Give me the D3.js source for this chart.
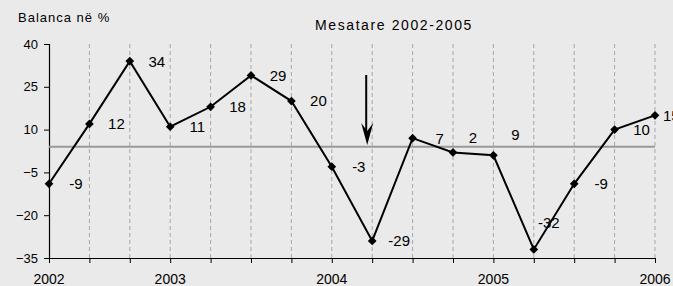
<!DOCTYPE html>
<html>
<head>
  <script type="text/javascript" src="https://cdn.jsdelivr.net/npm/d3@7"></script>
  <title>Balanca</title>
  <style>
    body { margin: 0; background: #eaeaea; }
    svg { display: block; font-family: "Liberation Sans", Arial, sans-serif; }
  </style>
</head>
<body>

<svg width="673" height="286"></svg>

<script>
  // quarterly balance, %
  var values = [-9, 12, 34, 11, 18, 29, 20, -3, -29, 7, 2, 1, -32, -9, 10, 15];
  var labels = ["-9", "12", "34", "11", "18", "29", "20", "-3", "-29", "7", "2", "9", "-32", "-9", "10", "15"];
  var yearTicks = [0, 3, 7, 11, 15];
  var yearLabels = ["2002", "2003", "2004", "2005", "2006"];
  var yTicks = [40, 25, 10, -5, -20, -35];
  var average = 4;
  var arrowAt = 8;

  var svg = d3.select("svg");
  var plotLeft = 49, plotRight = 655, plotTop = 44, plotBottom = 258;

  var x = d3.scaleLinear().domain([0, values.length - 1]).range([plotLeft, plotRight]);
  var y = d3.scaleLinear().domain([-35, 40]).range([plotBottom, plotTop]);

  // dashed verticals
  svg.append("g")
    .selectAll("line")
    .data(d3.range(1, values.length))
    .join("line")
      .attr("x1", function(i) { return x(i); })
      .attr("x2", function(i) { return x(i); })
      .attr("y1", plotTop)
      .attr("y2", plotBottom)
      .attr("stroke", "#a6a6a6")
      .attr("stroke-dasharray", "4,3");

  // y axis
  var yAxis = svg.append("g")
    .attr("transform", "translate(" + plotLeft + ",0)")
    .call(d3.axisLeft(y).tickValues(yTicks).tickSize(5).tickPadding(6));
  yAxis.select(".domain").attr("stroke", "#000").attr("stroke-width", 1.2);
  yAxis.selectAll(".tick line").attr("stroke", "#000");
  yAxis.selectAll("text").attr("font-size", 13).attr("font-family", "Liberation Sans").attr("fill", "#000");

  // x axis
  var xAxis = svg.append("g")
    .attr("transform", "translate(0," + plotBottom + ")")
    .call(d3.axisBottom(x).tickValues(d3.range(values.length)).tickSize(5).tickSizeOuter(0).tickFormat(""));
  xAxis.select(".domain").attr("stroke", "#000").attr("stroke-width", 1.2);
  xAxis.selectAll(".tick line").attr("stroke", "#000");

  svg.append("g")
    .selectAll("text")
    .data(yearTicks)
    .join("text")
      .attr("x", function(i) { return x(i); })
      .attr("y", 284)
      .attr("text-anchor", "middle")
      .attr("font-size", 14)
      .text(function(d, k) { return yearLabels[k]; });

  // average line
  svg.append("line")
    .attr("x1", plotLeft).attr("x2", plotRight)
    .attr("y1", y(average)).attr("y2", y(average))
    .attr("stroke", "#999")
    .attr("stroke-width", 2);

  // series
  var line = d3.line()
    .x(function(d, i) { return x(i); })
    .y(function(d) { return y(d); });

  svg.append("path")
    .datum(values)
    .attr("d", line)
    .attr("fill", "none")
    .attr("stroke", "#000")
    .attr("stroke-width", 2);

  svg.append("g")
    .selectAll("path")
    .data(values)
    .join("path")
      .attr("d", d3.symbol(d3.symbolSquare, 38))
      .attr("transform", function(d, i) { return "translate(" + x(i) + "," + y(d) + ") rotate(45)"; })
      .attr("fill", "#000");

  // data labels
  function labelDx(i) { return i == 10 ? 20 : i == 11 ? 22 : i == 12 ? 15 : 27; }
  function labelDy(i) {
    if (i == 10) return -15;
    if (i == 11) return y(9) - y(values[11]) + 2;
    if (i == 12) return -27;
    return 0;
  }
  svg.append("g")
    .selectAll("text")
    .data(values)
    .join("text")
      .attr("x", function(d, i) { return x(i) + labelDx(i); })
      .attr("y", function(d, i) { return y(d) + labelDy(i); })
      .attr("dy", "0.36em")
      .attr("text-anchor", function(d, i) { return i == values.length - 1 ? "start" : "middle"; })
      .attr("dx", function(d, i) { return i == values.length - 1 ? -19 : 0; })
      .attr("font-size", 15)
      .text(function(d, i) { return labels[i]; });

  // arrow
  var ax = x(arrowAt) - 6;
  svg.append("line")
    .attr("x1", ax).attr("x2", ax)
    .attr("y1", 75).attr("y2", 132)
    .attr("stroke", "#000")
    .attr("stroke-width", 2);
  svg.append("path")
    .attr("d", ["M", ax + 1, 145, "L", ax - 5, 123, "L", ax + 1, 131, "L", ax + 7, 123, "Z"].join(" "))
    .attr("fill", "#000");

  // titles
  svg.append("text")
    .attr("x", 18).attr("y", 22)
    .attr("font-size", 13)
    .attr("letter-spacing", 1)
    .text("Balanca në %");

  svg.append("text")
    .attr("x", 315).attr("y", 30)
    .attr("font-size", 14)
    .attr("letter-spacing", 1.6)
    .text("Mesatare 2002-2005");
</script>

</body>
</html>
